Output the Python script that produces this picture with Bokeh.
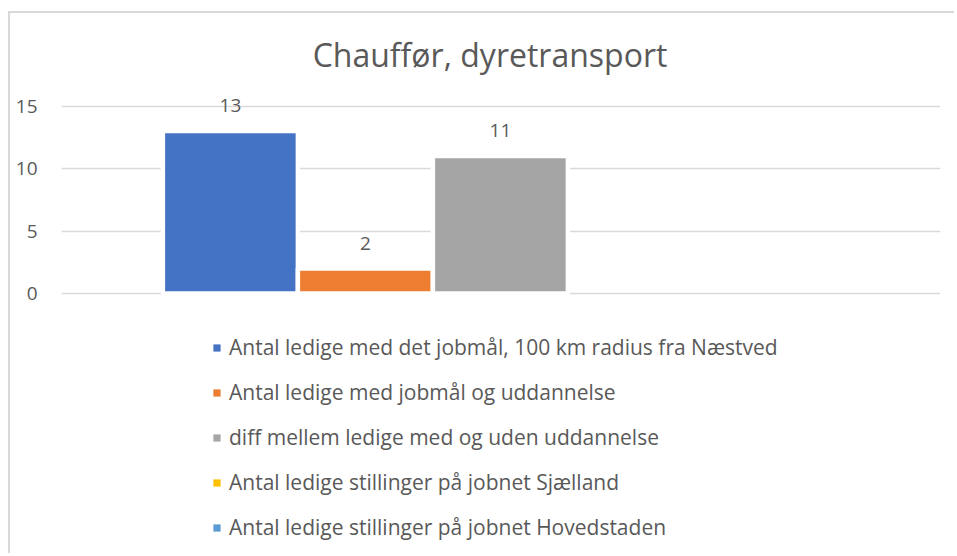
from bokeh.plotting import figure
from bokeh.models import (ColumnDataSource, Range1d, FixedTicker, LabelSet, Label,
                          Legend, LegendItem)
from bokeh.core.properties import value
from bokeh.embed import file_html
from bokeh.resources import INLINE

# ---- data ----
chart_title = "Chauffør, dyretransport"
series = [
    "Antal ledige med det jobmål, 100 km radius fra Næstved",
    "Antal ledige med jobmål og uddannelse",
    "diff mellem ledige med og uden uddannelse",
    "Antal ledige stillinger på jobnet Sjælland",
    "Antal ledige stillinger på jobnet Hovedstaden",
]
values = [13, 2, 11, 0, 0]
colors = ["#4472C4", "#ED7D31", "#A5A5A5", "#FFC000", "#5B9BD5"]
y_ticks = [0, 5, 10, 15]
y_tick_labels = ["0", "5", "10", "15"]

FONT = "Open Sans"
TXT = "#595959"

xs = list(range(len(series)))
bars = ColumnDataSource(dict(
    x=xs, top=values, color=colors,
    lalpha=[1.0 if v > 0 else 0.0 for v in values],
))
lab = ColumnDataSource(dict(
    x=[x for x, v in zip(xs, values) if v > 0],
    top=[v for v in values if v > 0],
    text=[str(v) for v in values if v > 0],
))

p = figure(width=946, height=542, title=None,
           x_range=Range1d(-1.251, 5.26), y_range=Range1d(-20.96, 22.4),
           output_backend="svg", toolbar_location=None,
           min_border_left=51, min_border_right=16,
           min_border_top=0, min_border_bottom=0)
p.styles = {"border-top": "2px solid #D9D9D9", "border-left": "2px solid #D9D9D9",
            "margin-top": "11px", "margin-left": "8px"}
p.outline_line_color = None
p.background_fill_color = "white"
p.border_fill_color = "white"

p.xaxis.visible = False
p.xgrid.visible = False
p.ygrid.ticker = FixedTicker(ticks=y_ticks)
p.ygrid.grid_line_color = "#D9D9D9"
p.ygrid.grid_line_width = 1.5

ya = p.yaxis[0]
ya.ticker = FixedTicker(ticks=y_ticks)
ya.major_label_overrides = {t: s for t, s in zip(y_ticks, y_tick_labels)}
ya.axis_line_color = None
ya.major_tick_line_color = None
ya.minor_tick_line_color = None
ya.major_tick_in = 0
ya.major_tick_out = 0
ya.major_label_standoff = 24
ya.major_label_text_font = FONT
ya.major_label_text_font_size = "19px"
ya.major_label_text_color = TXT

p.vbar(x="x", top="top", bottom=0, width=1.0, source=bars,
       fill_color="color", line_color="white", line_width=4.5, line_alpha="lalpha")

p.add_layout(LabelSet(x="x", y="top", text="text", source=lab, y_offset=19,
                      text_align="center", text_baseline="alphabetic",
                      text_font=value(FONT), text_font_size=value("19px"),
                      text_color=TXT))

p.add_layout(Label(x=428.5, y=501, x_units="screen", y_units="screen",
                   text=chart_title, text_align="center", text_baseline="alphabetic",
                   text_font=FONT, text_font_size="32px", text_color=TXT))

items = []
for i, (name, c) in enumerate(zip(series, colors)):
    r = p.vbar(x=[xs[i]], top=[values[i]], width=1.0, fill_color=c,
               line_color=None, visible=False)
    items.append(LegendItem(label=name, renderers=[r]))

legend = Legend(items=items, location=(151, 14), orientation="vertical",
                glyph_width=9, glyph_height=9, label_height=25, spacing=17,
                label_standoff=8, padding=0, margin=0,
                border_line_color=None, background_fill_alpha=0,
                label_text_font=FONT, label_text_font_size="21px",
                label_text_color=TXT)
p.add_layout(legend)

open("out.html", "w").write(file_html(p, INLINE))
